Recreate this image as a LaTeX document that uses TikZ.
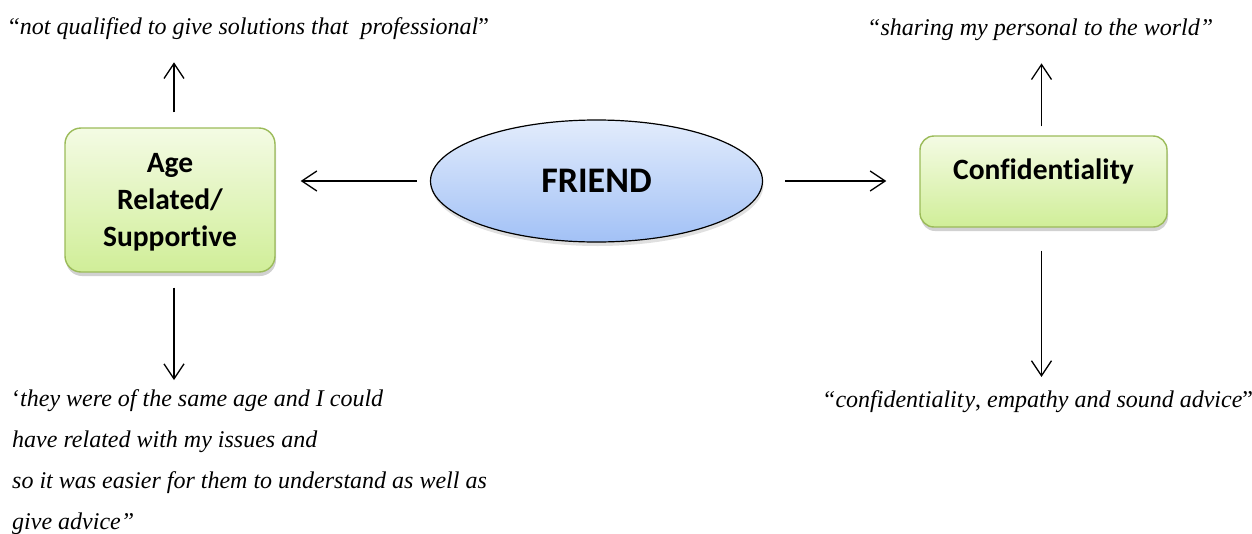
\documentclass[tikz,border=0pt]{standalone}
\usepackage{fontspec}
\setmainfont{Liberation Serif}
\newfontfamily\calib[Ligatures=NoCommon]{Carlito}
\usetikzlibrary{arrows.meta,shapes.geometric,shadows}

\definecolor{boxedge}{HTML}{9BBB59}
\definecolor{boxtop}{HTML}{F4FBE4}
\definecolor{boxbot}{HTML}{D0EE98}
\definecolor{elltop}{HTML}{E2ECFC}
\definecolor{ellbot}{HTML}{A2C1F6}

\tikzset{
  greenbox/.style={draw=boxedge, line width=1.4pt, rounded corners=16pt,
    top color=boxtop, bottom color=boxbot, align=center, inner sep=0pt,
    font=\calib\bfseries\fontsize{29.5}{37}\selectfont,
    drop shadow={shadow xshift=1pt, shadow yshift=-4pt, opacity=0.3, fill=black!60}},
  centre/.style={ellipse, draw=black, line width=1.2pt,
    top color=elltop, bottom color=ellbot, inner sep=0pt,
    font=\calib\bfseries\fontsize{36}{40}\selectfont,
    drop shadow={shadow xshift=1pt, shadow yshift=-4pt, opacity=0.2, fill=black!60}},
  quote/.style={inner sep=0pt, align=left, font=\fontsize{24}{41}\selectfont\itshape},
  link/.style={line width=1.3pt, -{Straight Barb[length=15pt,width=20pt,line width=1.3pt]}}
}

\begin{document}
\begin{tikzpicture}[x=1pt,y=-1pt]
  \useasboundingbox (0,0) rectangle (1252,533);

  % central ellipse and the two boxes
  \node[centre, minimum width=332pt, minimum height=122pt] (friend) at (596.5,181) {FRIEND};
  \node[greenbox, minimum width=210pt, minimum height=144pt] (age) at (170,200)
    {\raisebox{-3pt}[0.7em][0.2em]{Age}\\\raisebox{-3pt}{Related/}\\\raisebox{-3pt}{Supportive}};
  \node[greenbox, rounded corners=14pt, minimum width=247pt, minimum height=91pt] (conf) at (1043.5,181.5)
    {\raisebox{9pt}[0.7em][0.2em]{Confidentiality}};

  % quotations
  \node[quote, anchor=base west] (q1) at (9,34)
    {{\upshape “}not qualified to give solutions that\ \ professional{\upshape ”}};
  \node[quote, anchor=base west] (q2) at (867,35)
    {“sharing my personal to the world”};
  \node[quote, anchor=north west] (q3) at (12,389)
    {{\upshape ‘}they were of the same age and I could\\
     have related with my issues and\\
     so it was easier for them to understand as well as\\
     give advice”};
  \node[quote, anchor=base west] (q4) at (822,407)
    {“confidentialit\kern1pt y{\upshape ,} empathy and sound advice{\upshape ”}};

  % connectors
  \draw[link, shorten <=13pt, shorten >=25pt] (friend.west) -- (friend.west -| age.east);
  \draw[link, shorten <=22pt, shorten >=33pt] (friend.east) -- (friend.east -| conf.west);
  \draw[link, shorten <=15pt, shorten >=23pt] ([xshift=4pt]age.north) -- ([xshift=4pt]age.north |- q1.south);
  \draw[link, shorten <=15pt, shorten >=9pt] ([xshift=4pt]age.south) -- ([xshift=4pt]age.south |- q3.north);
  \draw[link, shorten <=9pt, shorten >=23pt] ([xshift=-2pt]conf.north) -- ([xshift=-2pt]conf.north |- q2.south);
  \draw[link, shorten <=23pt, shorten >=13pt] ([xshift=-2pt]conf.south) -- ([xshift=-2pt]conf.south |- q4.north);
\end{tikzpicture}
\end{document}
